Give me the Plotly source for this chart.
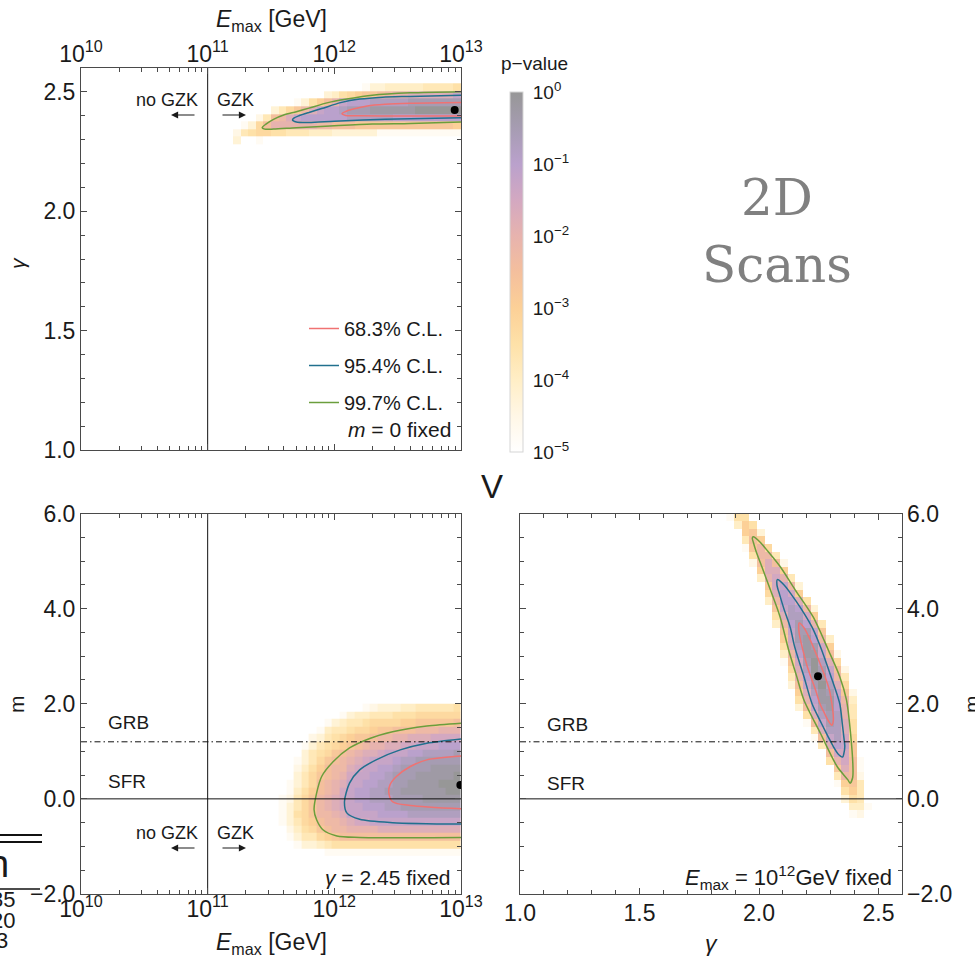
import numpy as np
import plotly.graph_objects as go

# ---------------------------------------------------------------------------
# p-value maps.  Each row is (first cell, codes); one code per cell with
# value = -4*log10(p): digits 0-9 then letters a-k (10-20).  Cells that are
# not listed lie below p = 1e-5 and stay blank.
# ---------------------------------------------------------------------------
P_LEVELS = "0123456789abcdefghijk"

# Panel A: E_max vs gamma (m = 0 fixed); rows run upward in gamma.
A_LOGE_EDGES = np.round(10.0 + 0.06 * np.arange(20, 51), 3)      # log10(E_max/GeV)
A_GAMMA_EDGES = np.round(1.0 + 0.032 * np.arange(40, 49), 3)
A_ROWS = [
    (0, "hkkj"),
    (0, "ifeddeefffggghhhhhhjjjjjjjjjjj"),
    (1, "jhda88888899aaabbbbbbbbbbbbbc"),
    (3, "ifa975444444333333444444444"),
    (5, "hfdb975443222111111000000"),
    (8, "jheca85444333332222222"),
    (11, "khgedcbba9887777775"),
    (16, "kjhhgggggffffe"),
]

# Panel B: E_max vs m (gamma = 2.45 fixed); rows run upward in m.
B_LOGE_EDGES = np.round(10.0 + 0.06 * np.arange(26, 51), 3)
B_M_EDGES = np.round(-2.0 + 0.16 * np.arange(5, 26), 3)
B_ROWS = [
    (3, "kkkjjjjjjjjjjjjjjjjjj"),
    (1, "kjhhgfeeeeeeeeeeeeeeeee"),
    (1, "jhffdcbaaaaaaaaaaaaaaaa"),
    (0, "kigedba99888877777777777"),
    (0, "jhfdca998766555555555555"),
    (0, "jhedb9987555544443333333"),
    (0, "jhfdb9876554443322222222"),
    (0, "jifdb9876544333222211111"),
    (0, "kjgeca986544332211111100"),
    (1, "jhfda987554433221111000"),
    (1, "khfdba98655443222111110"),
    (1, "kigeca99765544322221111"),
    (2, "jhfdba9876555433222222"),
    (2, "khfedba987765554433332"),
    (3, "jhfedcba9887766555444"),
    (3, "kihfedcbba99887776666"),
    (4, "kjgffeddcbbaaa999888"),
    (5, "kjhgffeddddccbbbbba"),
    (7, "kjhggfffeeedddddd"),
    (10, "kjihhhggfffffe"),
]

# Panel C: gamma vs m (E_max = 1e12 GeV fixed); rows run upward in m.
C_GAMMA_EDGES = np.round(1.0 + 0.032 * np.arange(27, 48), 3)
C_M_EDGES = np.round(-2.0 + 0.16 * np.arange(9, 51), 3)
C_ROWS = [
    (17, "k"), (16, "jik"), (15, "kggj"), (15, "hefk"), (15, "ecf"),
    (14, "jcbf"), (14, "f9ai"), (13, "kb7aj"), (13, "e86aj"), (12, "ka66b"),
    (12, "f745b"), (11, "ja536d"), (11, "f7337e"), (10, "ja5237e"), (10, "e73238f"),
    (9, "ha52148f"), (9, "e841149g"), (8, "kc73125bi"), (8, "ha52037d"), (8, "f841149f"),
    (8, "d73025ai"), (7, "jb62037d"), (7, "g94115ai"), (7, "e73126c"), (7, "c62149g"),
    (6, "kb5225bk"), (6, "g94248f"), (6, "e7336c"), (5, "kb5349h"), (5, "g9447e"),
    (5, "d746c"), (4, "kb659h"), (4, "g868f"), (4, "c77c"), (3, "ia7ai"),
    (3, "e99f"), (2, "jb9d"), (2, "fack"), (2, "cbh"), (1, "gce"),
    (0, "jeek"),
]

# ---------------------------------------------------------------------------
# Confidence-level contours and best-fit points
# ---------------------------------------------------------------------------
CL_NAMES = ["68.3% C.L.", "95.4% C.L.", "99.7% C.L."]

A_R68_LOGE = [13.0, 12.6, 12.4, 12.26, 12.15, 12.09, 12.06, 12.09, 12.2, 12.5, 13.0]
A_R68_GAMMA = [2.455, 2.452, 2.448, 2.441, 2.428, 2.418, 2.409, 2.401, 2.400, 2.399, 2.399]
A_R95_LOGE = [13.0, 12.6, 12.38, 12.2, 12.05, 11.9, 11.8, 11.72, 11.68, 11.67, 11.7, 11.8, 12.0, 12.4, 13.0]
A_R95_GAMMA = [2.486, 2.481, 2.478, 2.470, 2.455, 2.430, 2.414, 2.400, 2.390, 2.382, 2.374, 2.372,
               2.377, 2.385, 2.392]
A_R997_LOGE = [13.0, 12.6, 12.3, 12.1, 11.95, 11.8, 11.7, 11.6, 11.52, 11.46, 11.43, 11.45, 11.52,
               11.7, 12.0, 12.3, 12.6, 13.0]
A_R997_GAMMA = [2.501, 2.496, 2.486, 2.470, 2.455, 2.432, 2.417, 2.403, 2.385, 2.365, 2.350, 2.344,
                2.344, 2.350, 2.358, 2.365, 2.368, 2.374]

B_R68_LOGE = [13.0, 12.73, 12.6, 12.49, 12.44, 12.43, 12.46, 12.6, 13.0]
B_R68_M = [0.90, 0.82, 0.68, 0.47, 0.30, 0.13, -0.06, -0.14, -0.21]
B_R95_LOGE = [13.0, 12.73, 12.52, 12.33, 12.2, 12.12, 12.08, 12.1, 12.2, 12.46, 13.0]
B_R95_M = [1.26, 1.17, 1.03, 0.82, 0.61, 0.33, -0.06, -0.30, -0.43, -0.50, -0.53]
B_R997_LOGE = [13.0, 12.73, 12.46, 12.28, 12.12, 11.99, 11.90, 11.86, 11.84, 11.86, 11.91, 12.02,
               12.2, 13.0]
B_R997_M = [1.59, 1.53, 1.41, 1.27, 1.07, 0.78, 0.47, 0.12, -0.23, -0.44, -0.65, -0.78, -0.81, -0.81]

C_R68_GAMMA = [2.168, 2.188, 2.209, 2.235, 2.259, 2.275, 2.294, 2.305, 2.31, 2.311, 2.305, 2.289,
               2.274, 2.255, 2.236, 2.215, 2.201, 2.185, 2.171, 2.166, 2.168]
C_R68_M = [3.70, 3.6, 3.4, 3.1, 2.8, 2.59, 2.3, 2.0, 1.8, 1.65, 1.55, 1.65, 1.8, 2.0, 2.3, 2.59,
           2.8, 3.1, 3.4, 3.6, 3.70]
C_R95_GAMMA = [2.077, 2.104, 2.135, 2.176, 2.223, 2.257, 2.30, 2.338, 2.348, 2.355, 2.359, 2.355,
               2.35, 2.33, 2.311, 2.29, 2.26, 2.222, 2.187, 2.149, 2.131, 2.104, 2.086, 2.075, 2.077]
C_R95_M = [4.61, 4.5, 4.3, 4.0, 3.6, 3.2, 2.59, 2.0, 1.6, 1.3, 1.1, 0.95, 0.88, 0.95, 1.1, 1.3,
           1.6, 2.0, 2.59, 3.2, 3.6, 4.0, 4.3, 4.5, 4.61]
C_R997_GAMMA = [1.976, 2.004, 2.038, 2.089, 2.152, 2.226, 2.29, 2.338, 2.366, 2.383, 2.393, 2.392,
                2.381, 2.372, 2.327, 2.257, 2.188, 2.158, 2.124, 2.088, 2.048, 2.012, 1.988, 1.976,
                1.972, 1.976]
C_R997_M = [5.51, 5.40, 5.20, 4.88, 4.39, 3.83, 3.13, 2.57, 2.08, 1.38, 0.68, 0.45, 0.33, 0.40,
            0.68, 1.38, 2.08, 2.57, 3.13, 3.83, 4.39, 4.88, 5.20, 5.40, 5.48, 5.51]

A_BEST = (12.95, 2.424)    # (log10 E_max, gamma)
B_BEST = (12.995, 0.29)    # (log10 E_max, m)
C_BEST = (2.247, 2.58)     # (gamma, m)

# Reference values
GZK_LOGE = 11.0
SFR_M = 0.0
GRB_M = 1.2

# Axis tick labels
LOG_TICKS = [10, 11, 12, 13]
PVAL_EXPONENTS = [-5, -4, -3, -2, -1, 0]

# ---------------------------------------------------------------------------
W, H = 975, 958
FONT = "Liberation Sans, Arial, Helvetica, sans-serif"
INK = "#1a1a1a"
FRAME = "#4a4a4a"
CL_COLORS = ["#f07272", "#21708e", "#6b9e3c"]

P_SCALE = [
    [0.0, "#ffffff"], [0.1, "#fff7e6"], [0.2, "#ffeec6"], [0.3, "#fee1a8"],
    [0.4, "#fcd097"], [0.5, "#f4bf9d"], [0.6, "#e7b3ae"], [0.7, "#d3a8c1"],
    [0.8, "#baa1cc"], [0.9, "#a69cb2"], [1.0, "#979797"],
]


def fx(p):
    return p / W


def fy(p):
    return 1 - p / H


def decode(rows, ncols):
    z = np.full((len(rows), ncols), np.nan)
    for r, (start, codes) in enumerate(rows):
        for j, ch in enumerate(codes):
            if ch != ".":
                z[r, start + j] = -P_LEVELS.index(ch) / 4.0
    return z


fig = go.Figure()

# density maps
fig.add_trace(go.Heatmap(x=10 ** A_LOGE_EDGES, y=A_GAMMA_EDGES,
                         z=decode(A_ROWS, len(A_LOGE_EDGES) - 1),
                         coloraxis="coloraxis", xaxis="x", yaxis="y", hoverinfo="skip"))
fig.add_trace(go.Heatmap(x=10 ** B_LOGE_EDGES, y=B_M_EDGES,
                         z=decode(B_ROWS, len(B_LOGE_EDGES) - 1),
                         coloraxis="coloraxis", xaxis="x2", yaxis="y2", hoverinfo="skip"))
fig.add_trace(go.Heatmap(x=C_GAMMA_EDGES, y=C_M_EDGES,
                         z=decode(C_ROWS, len(C_GAMMA_EDGES) - 1),
                         coloraxis="coloraxis", xaxis="x3", yaxis="y3", hoverinfo="skip"))


def contour(x, y, color, axes, name=None, legend=False):
    return go.Scatter(x=x, y=y, mode="lines", name=name, showlegend=legend,
                      legendgroup=name, xaxis=axes[0], yaxis=axes[1], hoverinfo="skip",
                      line=dict(color=color, width=1.5, shape="spline", smoothing=0.8))


a_sets = [(A_R68_LOGE, A_R68_GAMMA), (A_R95_LOGE, A_R95_GAMMA), (A_R997_LOGE, A_R997_GAMMA)]
b_sets = [(B_R68_LOGE, B_R68_M), (B_R95_LOGE, B_R95_M), (B_R997_LOGE, B_R997_M)]
c_sets = [(C_R68_GAMMA, C_R68_M), (C_R95_GAMMA, C_R95_M), (C_R997_GAMMA, C_R997_M)]

for (lx, ly), col, nm in zip(a_sets, CL_COLORS, CL_NAMES):
    fig.add_trace(contour(10 ** np.array(lx), ly, col, ("x", "y"), nm, True))
for (lx, ly), col, nm in zip(b_sets, CL_COLORS, CL_NAMES):
    fig.add_trace(contour(10 ** np.array(lx), ly, col, ("x2", "y2"), nm))
for (lx, ly), col, nm in zip(c_sets, CL_COLORS, CL_NAMES):
    fig.add_trace(contour(lx, ly, col, ("x3", "y3"), nm))

# reference lines
ref_line = dict(color="#111111", width=1)
fig.add_trace(go.Scatter(x=[10 ** GZK_LOGE] * 2, y=[1.0, 2.6], mode="lines", line=ref_line,
                         showlegend=False, xaxis="x", yaxis="y", hoverinfo="skip"))
fig.add_trace(go.Scatter(x=[10 ** GZK_LOGE] * 2, y=[-2.0, 6.0], mode="lines", line=ref_line,
                         showlegend=False, xaxis="x2", yaxis="y2", hoverinfo="skip"))
for ax, (xa, xb) in (("2", (1e10, 1e13)), ("3", (1.0, 2.6))):
    fig.add_trace(go.Scatter(x=[xa, xb], y=[SFR_M] * 2, mode="lines", line=ref_line,
                             showlegend=False, xaxis="x" + ax, yaxis="y" + ax, hoverinfo="skip"))
    fig.add_trace(go.Scatter(x=[xa, xb], y=[GRB_M] * 2, mode="lines",
                             line=dict(color="#111111", width=1, dash="6px,3px,1.5px,3px"),
                             showlegend=False, xaxis="x" + ax, yaxis="y" + ax, hoverinfo="skip"))

# best-fit points
dot = dict(color="black", size=8)
fig.add_trace(go.Scatter(x=[10 ** A_BEST[0]], y=[A_BEST[1]], mode="markers", marker=dot,
                         showlegend=False, xaxis="x", yaxis="y", hoverinfo="skip"))
fig.add_trace(go.Scatter(x=[10 ** B_BEST[0]], y=[B_BEST[1]], mode="markers", marker=dot,
                         showlegend=False, xaxis="x2", yaxis="y2", hoverinfo="skip"))
fig.add_trace(go.Scatter(x=[C_BEST[0]], y=[C_BEST[1]], mode="markers", marker=dot,
                         showlegend=False, xaxis="x3", yaxis="y3", hoverinfo="skip"))

# ---------------------------------------------------------------------------
# axes
# ---------------------------------------------------------------------------
X_LEFT = [fx(81), fx(461)]
X_RIGHT = [fx(520), fx(902.4)]
Y_TOP = [fy(450), fy(68)]
Y_BOT = [fy(894), fy(513.5)]

log_minor = [m * 10.0 ** e for e in LOG_TICKS[:-1] for m in range(2, 10)]


def axis(**kw):
    base = dict(showline=True, linecolor=FRAME, linewidth=1, mirror="allticks",
                ticks="inside", ticklen=6, tickwidth=1, tickcolor=FRAME,
                showgrid=False, zeroline=False, ticklabelstandoff=0,
                tickfont=dict(family=FONT, size=23, color=INK))
    base.update(kw)
    return base


def log_axis(**kw):
    return axis(type="log", range=[LOG_TICKS[0], LOG_TICKS[-1]],
                tickvals=[10.0 ** e for e in LOG_TICKS],
                ticktext=["10<sup>%d</sup>" % e for e in LOG_TICKS],
                minor=dict(tickmode="array", tickvals=log_minor, ticks="inside",
                           ticklen=4, tickcolor=FRAME), **kw)


def lin_minor(step, start):
    return dict(dtick=step, tick0=start, ticks="inside", ticklen=4, tickcolor=FRAME)


layout_axes = dict(
    xaxis=log_axis(domain=X_LEFT, anchor="y", side="top", ticklabelstandoff=-4),
    yaxis=axis(domain=Y_TOP, anchor="x", range=[1.0, 2.6], dtick=0.5, tick0=1.0,
               tickformat=".1f", minor=lin_minor(0.1, 1.0)),
    xaxis2=log_axis(domain=X_LEFT, anchor="y2", ticklabelstandoff=-6),
    yaxis2=axis(domain=Y_BOT, anchor="x2", range=[-2.0, 6.0], dtick=2, tick0=0,
                tickformat=".1f", minor=lin_minor(0.5, 0)),
    xaxis3=axis(domain=X_RIGHT, anchor="y3", range=[1.0, 2.6], dtick=0.5, tick0=1.0,
                tickformat=".1f", minor=lin_minor(0.1, 1.0), ticklabelstandoff=-2),
    yaxis3=axis(domain=Y_BOT, anchor="x3", side="right", range=[-2.0, 6.0], dtick=2, tick0=0,
                tickformat=".1f", minor=lin_minor(0.5, 0), ticklabelstandoff=-1),
)

# ---------------------------------------------------------------------------
# annotations
# ---------------------------------------------------------------------------
def note(s, x, y, size=18, xanchor="center", yanchor="middle", family=FONT, color=INK,
         angle=0):
    return dict(text=s, x=fx(x), y=fy(y), xref="paper", yref="paper", xanchor=xanchor,
                yanchor=yanchor, showarrow=False, textangle=angle,
                font=dict(family=family, size=size, color=color))


def arrow(x_tip, x_tail, y):
    return dict(text="", x=fx(x_tip), y=fy(y), xref="paper", yref="paper",
                ax=x_tail - x_tip, ay=0, showarrow=True, arrowhead=2, arrowsize=1.3,
                arrowwidth=1.1, arrowcolor=INK, standoff=0, startstandoff=0)


EMAX_TITLE = "<i>E</i><sub>max</sub> [GeV]"
annotations = [
    note(EMAX_TITLE, 271, 20, size=23),
    note(EMAX_TITLE, 271, 943, size=23),
    note("<i>γ</i>", 711, 943, size=23),
    note("<i>γ</i>", 17, 263, size=21, angle=-90),
    note("m", 16, 704, size=21, angle=-90),
    note("m", 971, 704, size=21, angle=-90),
    note("p−value", 534, 63, size=19),
    note("<i>m</i> = 0 fixed", 453, 430, size=21, xanchor="right"),
    note("<i>γ</i> = 2.45 fixed", 453, 877, size=21, xanchor="right"),
    note("<i>E</i><sub>max</sub> = 10<sup>12</sup>GeV fixed", 894, 877, size=22, xanchor="right"),
    note("2D", 777, 198, size=50, family="DejaVu Serif, serif", color="#808080"),
    note("Scans", 777, 265, size=50, family="DejaVu Serif, serif", color="#808080"),
    note("V", 492, 486, size=33),
    # panel labels for the GZK cut
    note("no GZK", 200, 100, xanchor="right"),
    note("GZK", 215, 100, xanchor="left"),
    note("no GZK", 200, 833, xanchor="right"),
    note("GZK", 215, 833, xanchor="left"),
    arrow(171, 196, 115), arrow(246, 221, 115),
    arrow(171, 196, 848), arrow(246, 221, 848),
    # source classes
    note("GRB", 106, 722, size=19, xanchor="left"),
    note("SFR", 106, 781, size=19, xanchor="left"),
    note("GRB", 545, 724, size=19, xanchor="left"),
    note("SFR", 545, 783, size=19, xanchor="left"),
    # neighbouring table fragment at the page edge
    note("n", 11, 864, size=38, xanchor="right"),
    note("35", 17, 899, size=22, xanchor="right"),
    note("20", 17, 920, size=22, xanchor="right"),
    note("3", 10, 940, size=22, xanchor="right"),
]

shapes = [
    dict(type="line", xref="paper", yref="paper", x0=0, x1=fx(42), y0=fy(835), y1=fy(835),
         line=dict(color="#111111", width=2)),
    dict(type="line", xref="paper", yref="paper", x0=0, x1=fx(42), y0=fy(842), y1=fy(842),
         line=dict(color="#111111", width=2)),
    dict(type="line", xref="paper", yref="paper", x0=0, x1=fx(40), y0=fy(889), y1=fy(889),
         line=dict(color="#111111", width=1.5)),
]

fig.update_layout(
    width=W, height=H, margin=dict(l=0, r=0, t=0, b=0, autoexpand=False),
    paper_bgcolor="white", plot_bgcolor="rgba(0,0,0,0)",
    font=dict(family=FONT, color=INK),
    coloraxis=dict(
        cmin=-5, cmax=0, colorscale=P_SCALE,
        colorbar=dict(x=fx(510), xanchor="left", xpad=0, ypad=0, thickness=13,
                      len=(452 - 92) / H, lenmode="fraction", y=fy(272), yanchor="middle",
                      outlinewidth=1, outlinecolor="#d5d5d5",
                      tickvals=PVAL_EXPONENTS,
                      ticktext=["10<sup>%s</sup>" % str(e).replace("-", "−") for e in PVAL_EXPONENTS],
                      ticks="outside", ticklen=6, tickcolor="rgba(0,0,0,0)",
                      tickfont=dict(family=FONT, size=19, color=INK)),
    ),
    legend=dict(x=fx(304), y=fy(309), xanchor="left", yanchor="top", bgcolor="rgba(0,0,0,0)",
                font=dict(family=FONT, size=20, color=INK), tracegroupgap=8, itemwidth=30),
    annotations=annotations,
    shapes=shapes,
    **layout_axes,
)

fig.write_html("out.html")
